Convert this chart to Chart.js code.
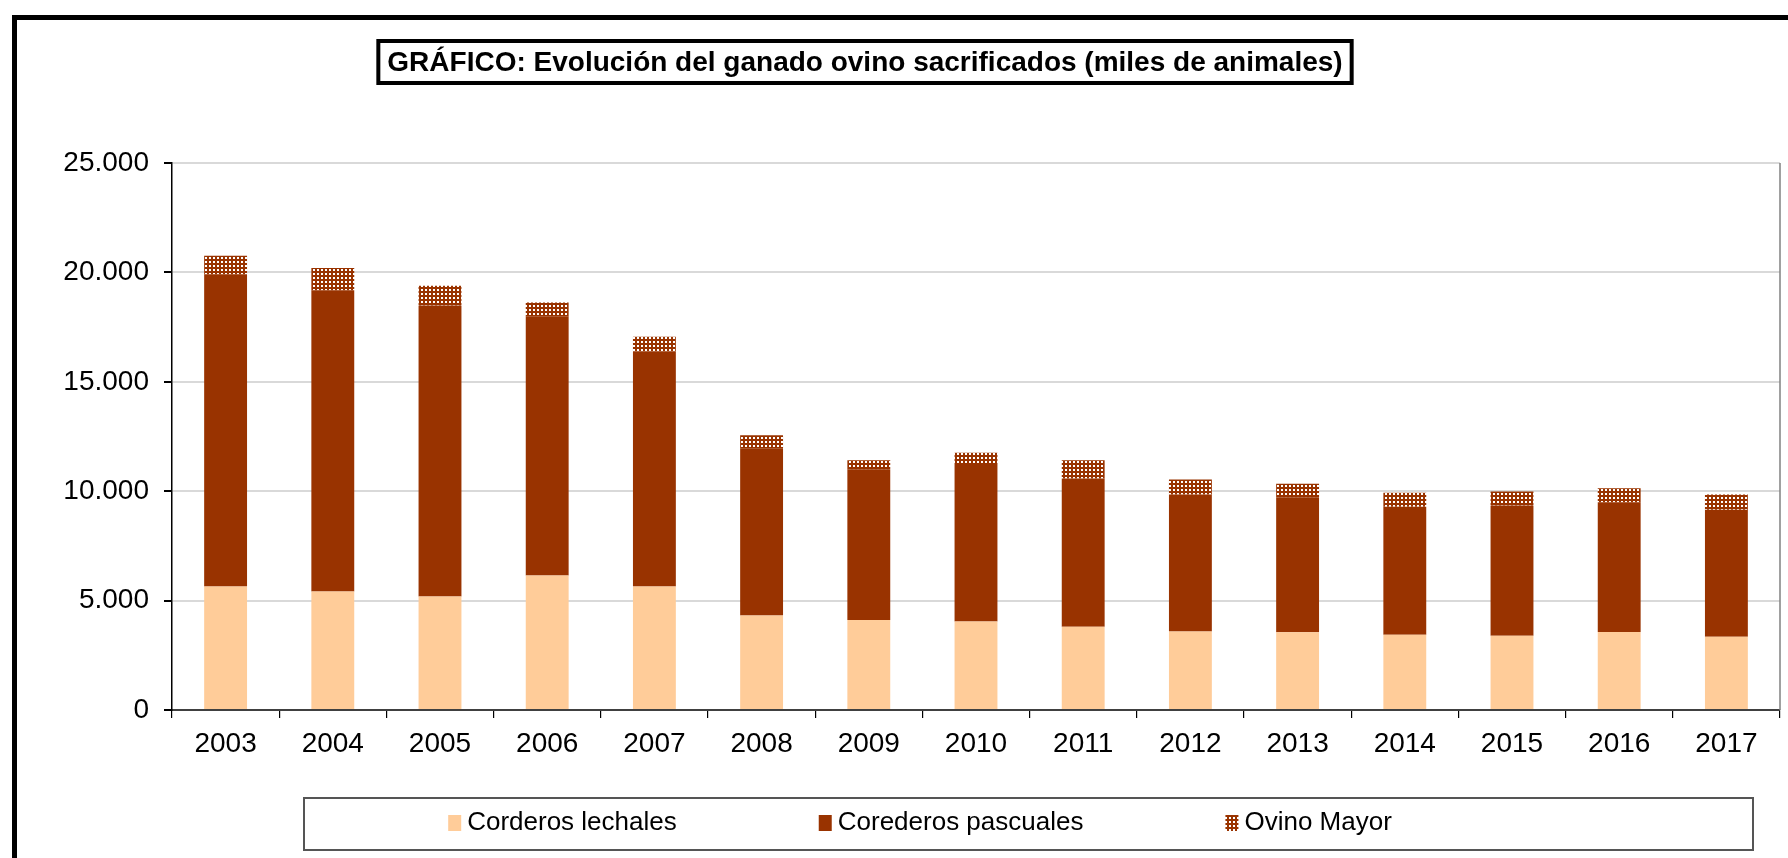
<!DOCTYPE html>
<html>
<head>
<meta charset="utf-8">
<script src="https://cdn.jsdelivr.net/npm/chart.js@4.4.1/dist/chart.umd.min.js"></script>
<style>
html, body { margin: 0; padding: 0; background: #fff; }
#wrap { width: 1788px; height: 858px; }
</style>
</head>
<body>
<div id="wrap"><canvas id="chart" width="1788" height="858"></canvas></div>
<script>
// Data (miles de animales)
const years = ['2003', '2004', '2005', '2006', '2007', '2008', '2009', '2010', '2011', '2012', '2013', '2014', '2015', '2016', '2017'];
const lechales = [5650, 5420, 5190, 6150, 5650, 4320, 4110, 4050, 3800, 3590, 3550, 3440, 3390, 3560, 3350];
const pascuales = [14270, 13760, 13300, 11850, 10740, 7620, 6890, 7190, 6780, 6260, 6170, 5850, 5960, 5940, 5800];
const ovinoMayor = [840, 1020, 900, 630, 670, 620, 410, 520, 830, 690, 620, 640, 640, 640, 700];
const seriesNames = ['Corderos lechales', 'Corederos pascuales', 'Ovino Mayor'];
const yTicks = [0, 5000, 10000, 15000, 20000, 25000];
const titleText = 'GRÁFICO: Evolución del ganado ovino sacrificados (miles de animales)';

const FONT = '"Liberation Sans", Arial, sans-serif';
const colLechales = '#FFCC99';
const colPascuales = '#993300';

// dotted fill for Ovino Mayor
function dotPattern() {
    const c = document.createElement('canvas');
    c.width = 4; c.height = 4;
    const g = c.getContext('2d');
    g.fillStyle = colPascuales;
    g.fillRect(0, 0, 4, 4);
    g.fillStyle = '#ffffff';
    g.fillRect(1, 1, 2, 2);
    return g.createPattern(c, 'repeat');
}
const colMayor = dotPattern();

function fmt(v) {
    return v.toString().replace(/\B(?=(\d{3})+(?!\d))/g, '.');
}

// frame, title box and legend box
const decor = {
    id: 'decor',
    beforeDraw(chart) {
        const ctx = chart.ctx;
        ctx.save();
        ctx.fillStyle = '#fff';
        ctx.fillRect(0, 0, chart.width, chart.height);
        ctx.restore();
    },
    afterDraw(chart) {
        const ctx = chart.ctx;
        const area = chart.chartArea;
        ctx.save();

        // outer frame
        ctx.fillStyle = '#000';
        ctx.fillRect(12, 15, chart.width, 5);
        ctx.fillRect(12, 15, 5, chart.height);

        // right edge of plot
        ctx.strokeStyle = '#808080';
        ctx.lineWidth = 1.5;
        ctx.beginPath();
        ctx.moveTo(area.right, area.top);
        ctx.lineTo(area.right, area.bottom);
        ctx.stroke();

        // title
        ctx.font = 'bold 28px ' + FONT;
        ctx.textAlign = 'center';
        ctx.textBaseline = 'middle';
        const tw = ctx.measureText(titleText).width;
        const tx = 865, ty = 62;
        ctx.fillStyle = '#fff';
        ctx.fillRect(tx - tw / 2 - 9, 41, tw + 18, 42);
        ctx.strokeStyle = '#000';
        ctx.lineWidth = 4;
        ctx.strokeRect(tx - tw / 2 - 9, 41, tw + 18, 42);
        ctx.fillStyle = '#000';
        ctx.fillText(titleText, tx, ty + 1);

        // legend
        ctx.strokeStyle = '#555';
        ctx.lineWidth = 2;
        ctx.strokeRect(304, 798, 1449, 52);
        ctx.font = '26px ' + FONT;
        ctx.textAlign = 'left';
        const sw = 13, gap = 6, spacing = 142;
        const items = chart.data.datasets.map(ds => ({
            label: ds.label, color: ds.backgroundColor,
            w: sw + gap + ctx.measureText(ds.label).width
        }));
        const total = items.reduce((s, it) => s + it.w, 0) + spacing * (items.length - 1);
        let x = 920 - total / 2;
        const ly = 823;
        items.forEach(it => {
            ctx.fillStyle = it.color;
            ctx.fillRect(x, ly - 8, sw, 16);
            ctx.fillStyle = '#000';
            ctx.fillText(it.label, x + sw + gap, ly);
            x += it.w + spacing;
        });
        ctx.restore();
    }
};

new Chart(document.getElementById('chart'), {
    type: 'bar',
    data: {
        labels: years,
        datasets: [
            { label: seriesNames[0], data: lechales, backgroundColor: colLechales },
            { label: seriesNames[1], data: pascuales, backgroundColor: colPascuales },
            { label: seriesNames[2], data: ovinoMayor, backgroundColor: colMayor }
        ]
    },
    options: {
        responsive: false,
        animation: false,
        layout: { padding: { left: 20, right: 8, top: 163, bottom: 98 } },
        datasets: { bar: { barPercentage: 0.4, categoryPercentage: 1, borderWidth: 0 } },
        plugins: {
            legend: { display: false },
            title: { display: false },
            tooltip: { enabled: false }
        },
        scales: {
            x: {
                stacked: true,
                afterFit: s => { s.height = 50; },
                grid: { offset: true, drawOnChartArea: false, drawTicks: true, tickLength: 8, tickColor: '#000', lineWidth: 1.2 },
                border: { display: true, color: '#404040', width: 2 },
                ticks: { color: '#000', padding: 9, font: { family: FONT, size: 28 } }
            },
            y: {
                stacked: true,
                min: 0,
                max: 25000,
                afterFit: s => { s.width = 152; },
                afterBuildTicks: s => { s.ticks = yTicks.map(v => ({ value: v })); },
                grid: { color: '#d9d9d9', lineWidth: 2, drawTicks: true, tickLength: 8, tickColor: '#000' },
                border: { display: true, color: '#000', width: 1.5 },
                ticks: { color: '#000', padding: 15, font: { family: FONT, size: 28 }, callback: v => fmt(v) }
            }
        }
    },
    plugins: [decor]
});
</script>
</body>
</html>
